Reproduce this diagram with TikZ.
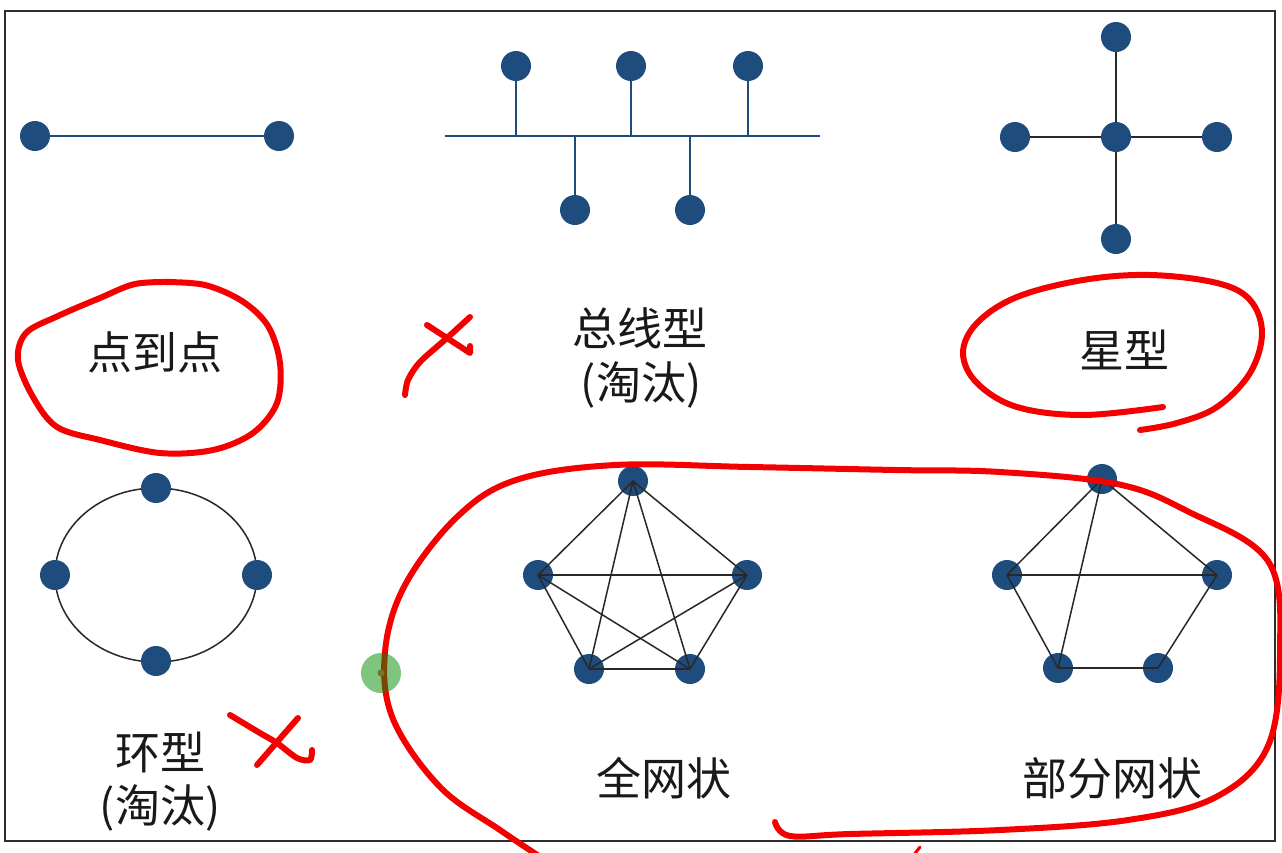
\documentclass[tikz,border=0pt]{standalone}
\usepackage{fontspec}
\setmainfont{Noto Sans CJK SC}
\definecolor{nodeblue}{RGB}{30,76,124}
\definecolor{framegray}{RGB}{45,45,45}
\definecolor{edgegray}{RGB}{40,40,40}
\definecolor{inkred}{RGB}{245,0,0}
\begin{document}
\begin{tikzpicture}[x=1pt,y=-1pt,
  netnode/.style={circle, fill=nodeblue, inner sep=0pt, minimum size=30pt},
  lbl/.style={font=\fontsize{45}{52}\selectfont, text=black!90, inner sep=0pt},
  blueline/.style={draw=nodeblue, line width=2pt},
  grayline/.style={draw=edgegray, line width=1.5pt},
  redink/.style={draw=inkred, line width=6pt, line cap=round, line join=round}]
\useasboundingbox (0,0) rectangle (1282,852);
\clip (0,0) rectangle (1282,852);
\fill[white] (0,0) rectangle (1282,852);
% frame
\draw[framegray, line width=2.5pt] (5,11) rectangle (1275,841);

% point to point
\node[netnode] (p1) at (35,136) {};
\node[netnode] (p2) at (279,136) {};
\draw[blueline] (p1) -- (p2);

% bus
\coordinate (busL) at (445,136);
\coordinate (busR) at (820,136);
\draw[blueline] (busL) -- (busR);
\node[netnode] (b1) at (516,66) {};
\node[netnode] (b2) at (631,66) {};
\node[netnode] (b3) at (748,66) {};
\node[netnode] (b4) at (575,210) {};
\node[netnode] (b5) at (690,210) {};
\foreach \n in {b1,b2,b3,b4,b5} \draw[blueline] (\n) -- (\n |- busL);

% star
\node[netnode] (s0) at (1116,137) {};
\node[netnode] (s1) at (1116,37) {};
\node[netnode] (s2) at (1116,239) {};
\node[netnode] (s3) at (1015,137) {};
\node[netnode] (s4) at (1217,137) {};
\foreach \n in {s1,s2,s3,s4} \draw[grayline] (s0) -- (\n);

% ring
\draw[grayline] (156,575) ellipse [x radius=101, y radius=87];
\node[netnode] (r1) at (156,488) {};
\node[netnode] (r2) at (257,575) {};
\node[netnode] (r3) at (156,661) {};
\node[netnode] (r4) at (55,575) {};

% full mesh
\node[netnode] (f1) at (633,481) {};
\node[netnode] (f2) at (747,575) {};
\node[netnode] (f3) at (690,669) {};
\node[netnode] (f4) at (589,669) {};
\node[netnode] (f5) at (538,575) {};
\foreach \a/\b in {f1/f2,f1/f3,f1/f4,f1/f5,f2/f3,f2/f4,f2/f5,f3/f4,f3/f5,f4/f5}
  \draw[grayline] (\a.center) -- (\b.center);

% partial mesh
\node[netnode] (m1) at (1102,479) {};
\node[netnode] (m2) at (1217,575) {};
\node[netnode] (m3) at (1158,668) {};
\node[netnode] (m4) at (1058,668) {};
\node[netnode] (m5) at (1007,575) {};
\foreach \a/\b in {m1/m2,m1/m4,m1/m5,m5/m2,m5/m4,m4/m3,m3/m2}
  \draw[grayline] (\a.center) -- (\b.center);

% labels
\node[lbl] (t1) at (155,352) {点到点};
\node[lbl] (t2) at (640,328) {总线型};
\node[lbl] (t2b) at (641,385) {(淘汰)};
\node[lbl] (t3) at (1124,350) {星型};
\node[lbl] (t4) at (160,752) {环型};
\node[lbl] (t4b) at (160,808) {(淘汰)};
\node[lbl] (t5) at (664,778) {全网状};
\node[lbl] (t6) at (1112,778) {部分网状};

% red annotations
\draw[redink] plot[smooth, tension=0.55] coordinates {(165,282) (205,285) (242,301) (268,326) (280,363) (277,403) (253,433) (213,450) (160,453) (100,440) (57,427) (33,397) (18,360) (26,333) (58,316) (100,298) (135,284) (172,282)};
\draw[redink] (427,325) -- (470,353) -- (470,346);
\draw[redink] plot[smooth] coordinates {(470,317) (447,338) (420,362) (408,380) (405,395)};
\draw[redink] plot[smooth, tension=0.6] coordinates {(1163,407) (1083,415) (1017,407) (977,383) (963,353) (977,323) (1017,297) (1083,280) (1150,275) (1217,283) (1250,300) (1262,333) (1250,373) (1217,407) (1177,423) (1140,430)};
\draw[redink] plot[smooth] coordinates {(230,715) (260,733) (277,743) (297,758) (310,760) (312,750)};
\draw[redink] (298,718) -- (277,742) -- (257,765);
\draw[redink] plot[smooth, tension=0.6] coordinates {(775,822) (790,836) (850,834) (1000,830) (1128,820) (1216,797) (1268,746) (1280,652) (1268,561) (1187,511) (1117,484) (1000,472) (895,470) (750,467) (615,465) (516,480) (457,517) (405,585) (385,652) (393,719) (440,787) (500,830) (545,860)};
\draw[redink, line width=3pt] (913,856) -- (920,847);
% green pointer dot
\fill[green!55!black, opacity=0.5] (381,673) circle (20);
\fill[black!60!green!40!brown] (381,673) circle (3.5);
\end{tikzpicture}
\end{document}
